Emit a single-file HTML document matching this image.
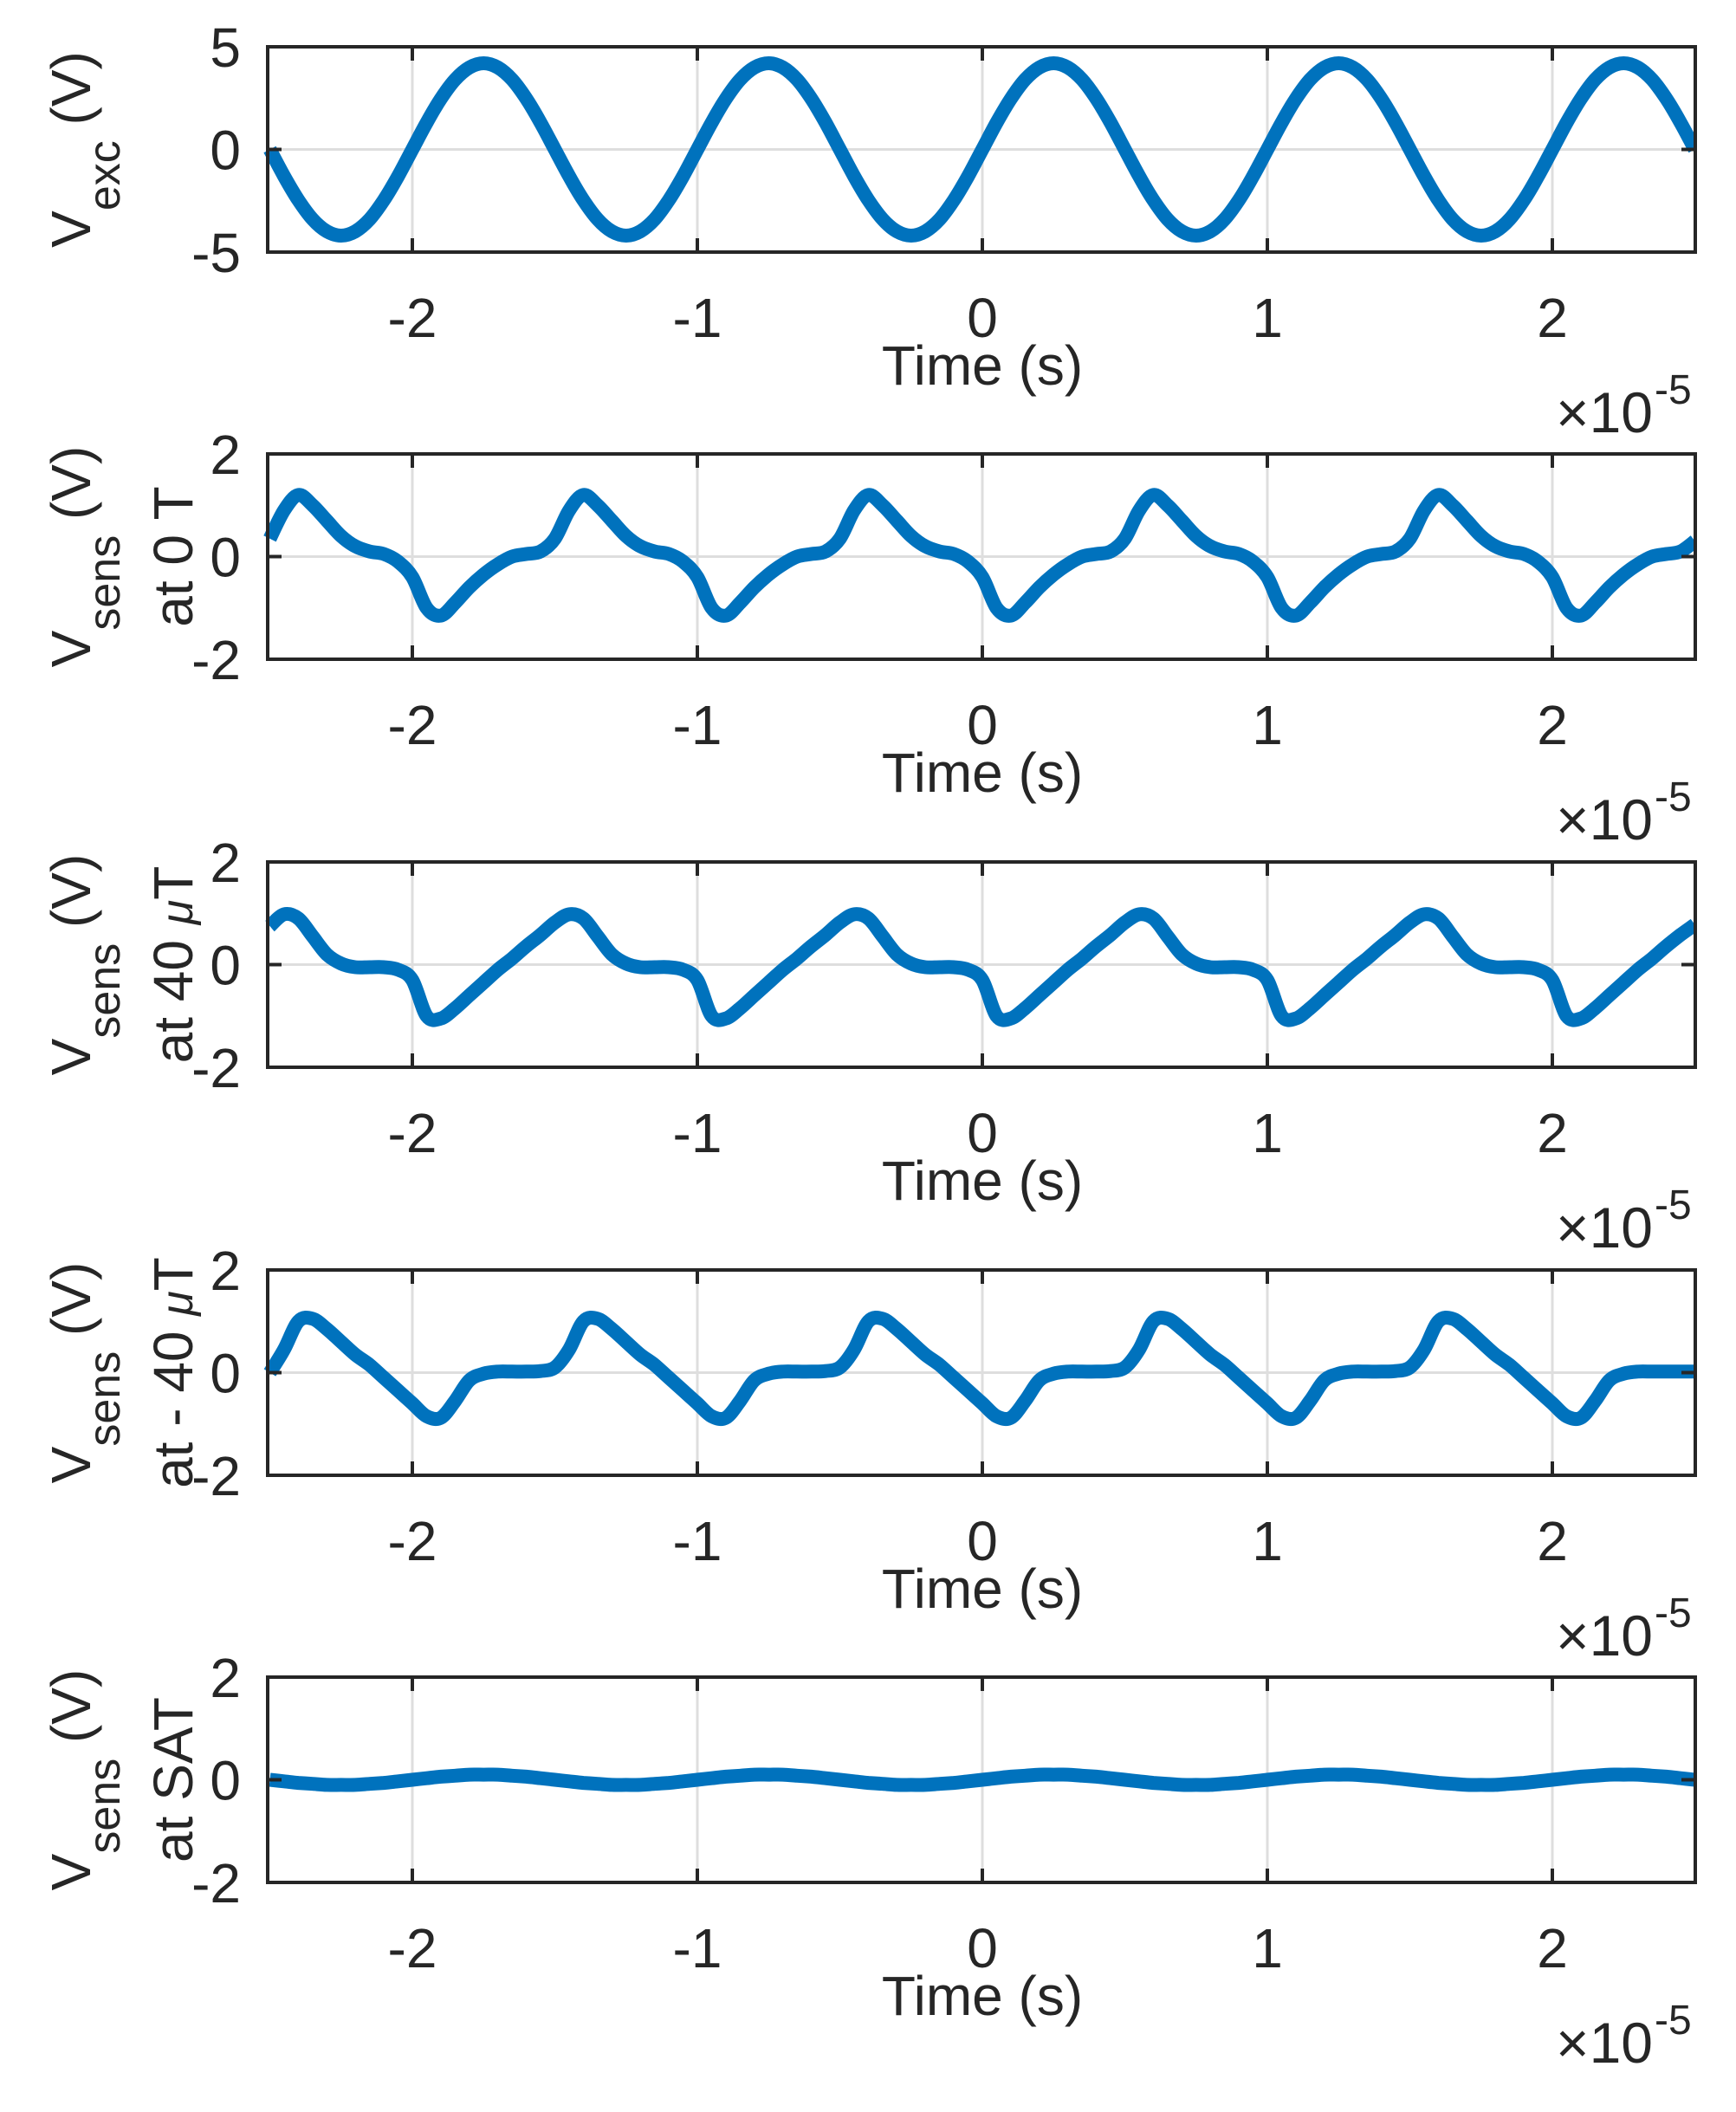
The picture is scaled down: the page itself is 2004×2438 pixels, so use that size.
<!DOCTYPE html>
<html><head><meta charset="utf-8"><style>
html,body{margin:0;padding:0;background:#fff;}
svg{display:block;font-family:"Liberation Sans",sans-serif;}
</style></head><body>
<svg id="chart" width="2004" height="2438" viewBox="0 0 2004 2438" xmlns="http://www.w3.org/2000/svg"></svg>
<script>
const timeValues = [-2.5,-2.45,-2.4,-2.35,-2.3,-2.25,-2.2,-2.15,-2.1,-2.05,-2,-1.95,-1.9,-1.85,-1.8,-1.75,-1.7,-1.65,-1.6,-1.55,-1.5,-1.45,-1.4,-1.35,-1.3,-1.25,-1.2,-1.15,-1.1,-1.05,-1,-0.95,-0.9,-0.85,-0.8,-0.75,-0.7,-0.65,-0.6,-0.55,-0.5,-0.45,-0.4,-0.35,-0.3,-0.25,-0.2,-0.15,-0.1,-0.05,0,0.05,0.1,0.15,0.2,0.25,0.3,0.35,0.4,0.45,0.5,0.55,0.6,0.65,0.7,0.75,0.8,0.85,0.9,0.95,1,1.05,1.1,1.15,1.2,1.25,1.3,1.35,1.4,1.45,1.5,1.55,1.6,1.65,1.7,1.75,1.8,1.85,1.9,1.95,2,2.05,2.1,2.15,2.2,2.25,2.3,2.35,2.4,2.45,2.5];
const xTicks = [-2,-1,0,1,2];
const xTickLabels = ["-2","-1","0","1","2"];
const vExc = [0,-1.3,-2.47,-3.4,-3.99,-4.2,-3.99,-3.4,-2.47,-1.3,0,1.3,2.47,3.4,3.99,4.2,3.99,3.4,2.47,1.3,
0,-1.3,-2.47,-3.4,-3.99,-4.2,-3.99,-3.4,-2.47,-1.3,0,1.3,2.47,3.4,3.99,4.2,3.99,3.4,2.47,1.3,
0,-1.3,-2.47,-3.4,-3.99,-4.2,-3.99,-3.4,-2.47,-1.3,0,1.3,2.47,3.4,3.99,4.2,3.99,3.4,2.47,1.3,
0,-1.3,-2.47,-3.4,-3.99,-4.2,-3.99,-3.4,-2.47,-1.3,0,1.3,2.47,3.4,3.99,4.2,3.99,3.4,2.47,1.3,
0,-1.3,-2.47,-3.4,-3.99,-4.2,-3.99,-3.4,-2.47,-1.3,0,1.3,2.47,3.4,3.99,4.2,3.99,3.4,2.47,1.3,0];
const vSens0T = [0.35,0.9,1.2,1.0,0.7,0.4,0.2,0.1,0.05,-0.1,-0.4,-1.0,-1.15,-0.9,-0.6,-0.35,-0.15,0.0,0.05,0.1,
0.35,0.9,1.2,1.0,0.7,0.4,0.2,0.1,0.05,-0.1,-0.4,-1.0,-1.15,-0.9,-0.6,-0.35,-0.15,0.0,0.05,0.1,
0.35,0.9,1.2,1.0,0.7,0.4,0.2,0.1,0.05,-0.1,-0.4,-1.0,-1.15,-0.9,-0.6,-0.35,-0.15,0.0,0.05,0.1,
0.35,0.9,1.2,1.0,0.7,0.4,0.2,0.1,0.05,-0.1,-0.4,-1.0,-1.15,-0.9,-0.6,-0.35,-0.15,0.0,0.05,0.1,
0.35,0.9,1.2,1.0,0.7,0.4,0.2,0.1,0.05,-0.1,-0.4,-1.0,-1.15,-0.9,-0.6,-0.35,-0.15,0.0,0.05,0.1,0.3];
const vSensPos40 = [0.75,0.98,0.9,0.55,0.2,0.02,-0.05,-0.05,-0.05,-0.1,-0.3,-1.0,-1.05,-0.85,-0.6,-0.35,-0.1,0.12,0.36,0.58,
0.82,0.98,0.9,0.55,0.2,0.02,-0.05,-0.05,-0.05,-0.1,-0.3,-1.0,-1.05,-0.85,-0.6,-0.35,-0.1,0.12,0.36,0.58,
0.82,0.98,0.9,0.55,0.2,0.02,-0.05,-0.05,-0.05,-0.1,-0.3,-1.0,-1.05,-0.85,-0.6,-0.35,-0.1,0.12,0.36,0.58,
0.82,0.98,0.9,0.55,0.2,0.02,-0.05,-0.05,-0.05,-0.1,-0.3,-1.0,-1.05,-0.85,-0.6,-0.35,-0.1,0.12,0.36,0.58,
0.82,0.98,0.9,0.55,0.2,0.02,-0.05,-0.05,-0.05,-0.1,-0.3,-1.0,-1.05,-0.85,-0.6,-0.35,-0.1,0.12,0.36,0.58,0.78];
const vSensNeg40 = [0.0,0.45,1.0,1.05,0.85,0.6,0.35,0.15,-0.1,-0.35,-0.6,-0.85,-0.88,-0.55,-0.15,-0.02,0.02,0.02,0.02,0.03,
0.1,0.45,1.0,1.05,0.85,0.6,0.35,0.15,-0.1,-0.35,-0.6,-0.85,-0.88,-0.55,-0.15,-0.02,0.02,0.02,0.02,0.03,
0.1,0.45,1.0,1.05,0.85,0.6,0.35,0.15,-0.1,-0.35,-0.6,-0.85,-0.88,-0.55,-0.15,-0.02,0.02,0.02,0.02,0.03,
0.1,0.45,1.0,1.05,0.85,0.6,0.35,0.15,-0.1,-0.35,-0.6,-0.85,-0.88,-0.55,-0.15,-0.02,0.02,0.02,0.02,0.03,
0.1,0.45,1.0,1.05,0.85,0.6,0.35,0.15,-0.1,-0.35,-0.6,-0.85,-0.88,-0.55,-0.15,-0.02,0.02,0.02,0.02,0.02,0.02];
const vSensSat = [0,-0.03,-0.06,-0.08,-0.1,-0.1,-0.1,-0.08,-0.06,-0.03,0,0.03,0.06,0.08,0.1,0.1,0.1,0.08,0.06,0.03,
0,-0.03,-0.06,-0.08,-0.1,-0.1,-0.1,-0.08,-0.06,-0.03,0,0.03,0.06,0.08,0.1,0.1,0.1,0.08,0.06,0.03,
0,-0.03,-0.06,-0.08,-0.1,-0.1,-0.1,-0.08,-0.06,-0.03,0,0.03,0.06,0.08,0.1,0.1,0.1,0.08,0.06,0.03,
0,-0.03,-0.06,-0.08,-0.1,-0.1,-0.1,-0.08,-0.06,-0.03,0,0.03,0.06,0.08,0.1,0.1,0.1,0.08,0.06,0.03,
0,-0.03,-0.06,-0.08,-0.1,-0.1,-0.1,-0.08,-0.06,-0.03,0,0.03,0.06,0.08,0.1,0.1,0.1,0.08,0.06,0.03,0];
const yTicksExc = [-5,0,5];
const yTicksSens = [-2,0,2];
const panelNames = ["vexc","vsens-0t","vsens-40ut","vsens-neg40ut","vsens-sat"];
const panelSecondLine = ["", "at  0 T", "at  40 μT", "at  - 40 μT", "at  SAT"];

const NS = "http://www.w3.org/2000/svg";
const svg = document.getElementById("chart");
const L = 309, R = 1957, H = 237;
const tops = [54, 524, 995, 1466, 1936];
const X0 = 1134, UNIT = 329;
const xmin = (L - X0) / UNIT, xmax = (R - X0) / UNIT;
function xs(t){ return L + (t - xmin) / (xmax - xmin) * (R - L); }
function mk(tag, attrs, parent){ const e = document.createElementNS(NS, tag); for (const k in attrs) e.setAttribute(k, attrs[k]); (parent||svg).appendChild(e); return e; }

const defs = mk("defs", {});
const series = [vExc, vSens0T, vSensPos40, vSensNeg40, vSensSat];

for (let p = 0; p < 5; p++) {
  const top = tops[p], bot = top + H;
  const ticks = p === 0 ? yTicksExc : yTicksSens;
  const ymin = ticks[0], ymax = ticks[2];
  const ys = v => bot - (v - ymin) / (ymax - ymin) * H;
  const g = mk("g", {});
  
  
  const cp = mk("clipPath", {id: "clip" + p}, defs);
  mk("rect", {x: L - 6, y: top - 10, width: R - L + 6, height: H + 20}, cp);
  xTicks.forEach(t => {
    const gl = mk("line", {x1: xs(t), x2: xs(t), y1: top, y2: bot, stroke: "#dedede", "stroke-width": 3}, g);
    
    
  });
  const hg = mk("line", {x1: L, x2: R, y1: ys(0), y2: ys(0), stroke: "#dedede", "stroke-width": 3}, g);
  
  
  const vals = series[p];
  const pts = timeValues.map((t, i) => [xs(t), ys(vals[i])]);
  let d = "M" + pts[0][0].toFixed(1) + "," + pts[0][1].toFixed(1);
  for (let i = 0; i < pts.length - 1; i++) {
    const p0 = pts[Math.max(0, i - 1)], p1 = pts[i], p2 = pts[i + 1], p3 = pts[Math.min(pts.length - 1, i + 2)];
    const c1 = [p1[0] + (p2[0] - p0[0]) / 6, p1[1] + (p2[1] - p0[1]) / 6];
    const c2 = [p2[0] - (p3[0] - p1[0]) / 6, p2[1] - (p3[1] - p1[1]) / 6];
    d += " C" + c1[0].toFixed(1) + "," + c1[1].toFixed(1) + " " + c2[0].toFixed(1) + "," + c2[1].toFixed(1) + " " + p2[0].toFixed(1) + "," + p2[1].toFixed(1);
  }
  const line = mk("path", {d: d, fill: "none", stroke: "#0072BD", "stroke-width": 16, "stroke-linejoin": "round", "clip-path": "url(#clip" + p + ")"}, g);
  
  
  const box = mk("rect", {x: L, y: top, width: R - L, height: H, fill: "none", stroke: "#262626", "stroke-width": 4}, g);
  
  
  xTicks.forEach((t, i) => {
    mk("line", {x1: xs(t), x2: xs(t), y1: bot, y2: bot - 16, stroke: "#262626", "stroke-width": 4}, g);
    mk("line", {x1: xs(t), x2: xs(t), y1: top, y2: top + 16, stroke: "#262626", "stroke-width": 4}, g);
    const tl = mk("text", {x: xs(t), y: bot + 98, "text-anchor": "middle", "font-size": 64, fill: "#262626"}, g);
    tl.textContent = xTickLabels[i];
    
    
  });
  ticks.forEach(v => {
    mk("line", {x1: L, x2: L + 16, y1: ys(v), y2: ys(v), stroke: "#262626", "stroke-width": 4}, g);
    mk("line", {x1: R, x2: R - 16, y1: ys(v), y2: ys(v), stroke: "#262626", "stroke-width": 4}, g);
    const yl = mk("text", {x: 278, y: ys(v) + 23, "text-anchor": "end", "font-size": 64, fill: "#262626"}, g);
    yl.textContent = String(v);
    
    
  });
  const xt = mk("text", {x: 1134, y: bot + 153, "text-anchor": "middle", "font-size": 64, fill: "#262626"}, g);
  xt.textContent = "Time (s)";
  
  
  const ex = mk("text", {x: 1908, y: bot + 208, "text-anchor": "end", "font-size": 66, fill: "#262626"}, g);
  ex.textContent = "×10";
  
  
  const ex2 = mk("text", {x: 1910, y: bot + 175, "font-size": 48, fill: "#262626"}, g);
  ex2.textContent = "-5";
  
  
  const cy = top + H / 2;
  const yt = mk("text", {transform: "translate(104," + cy + ") rotate(-90)", "text-anchor": "middle", "font-size": 64, fill: "#262626"}, g);
  
  
  const t1 = mk("tspan", {}, yt); t1.textContent = "V";
  const t2 = mk("tspan", {dy: 34, "font-size": 52}, yt); t2.textContent = p === 0 ? "exc" : "sens";
  const t3 = mk("tspan", {dy: -34}, yt); t3.textContent = " (V)";
  if (p > 0) {
    const y2 = mk("text", {transform: "translate(222," + cy + ") rotate(-90)", "text-anchor": "middle", "font-size": 64, fill: "#262626", "xml:space": "preserve"}, g);
    
    
    const txt = panelSecondLine[p];
    if (txt.indexOf("μ") >= 0) {
      const parts = txt.split("μ");
      const a = mk("tspan", {}, y2); a.textContent = parts[0];
      const b = mk("tspan", {"font-style": "italic", "font-size": 52}, y2); b.textContent = "μ";
      const c = mk("tspan", {}, y2); c.textContent = parts[1];
    } else {
      y2.textContent = txt;
    }
  }
}
</script>
</body></html>
